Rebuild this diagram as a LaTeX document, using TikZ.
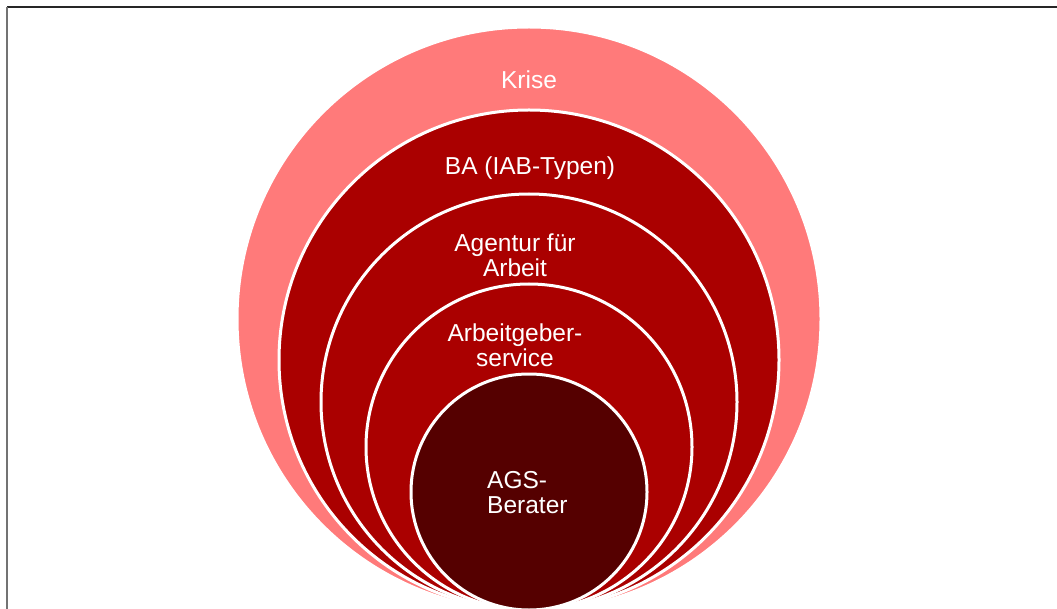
\documentclass[tikz,border=0pt]{standalone}
\usepackage{fontspec}
\setmainfont{Liberation Sans}
\definecolor{krisepink}{HTML}{FF7A7A}
\definecolor{bared}{HTML}{AA0000}
\definecolor{agsdark}{HTML}{550000}
\begin{document}
\begin{tikzpicture}[x=1pt,y=-1pt,
  ring/.style={circle,draw=white,line width=3pt,inner sep=0pt},
  lbl/.style={text=white,font=\fontsize{24.5}{25}\selectfont,align=center,inner sep=0pt}]
\useasboundingbox (0,0) rectangle (1057,609);
\clip (0,0) rectangle (1057,609);
\draw[color=black!85,line width=1.5pt] (7,7) -- (1057,7);
\draw[color=black!55,line width=1.5pt] (7,7) -- (7,609);
\node[ring,fill=krisepink,minimum size=584pt] (krise) at (529,319) {};
\node[ring,fill=bared,minimum size=500pt] (ba) at (529,360) {};
\node[ring,fill=bared,minimum size=416pt] (agentur) at (529,402) {};
\node[ring,fill=bared,minimum size=326pt] (ags) at (529,447) {};
\node[ring,fill=agsdark,minimum size=236pt] (berater) at (529,492) {};
\node[lbl] (tkrise) at (529,80) {Krise};
\node[lbl] (tba) at (530,168) {BA (IAB-Typen)};
\node[lbl] (tagentur) at (515,255.5) {Agentur für\\Arbeit};
\node[lbl] (tags) at (515,345) {Arbeitgeber-\\service};
\node[lbl,align=left,anchor=west] (tberater) at (487,492.5) {AGS-\\Berater};
\end{tikzpicture}
\end{document}
